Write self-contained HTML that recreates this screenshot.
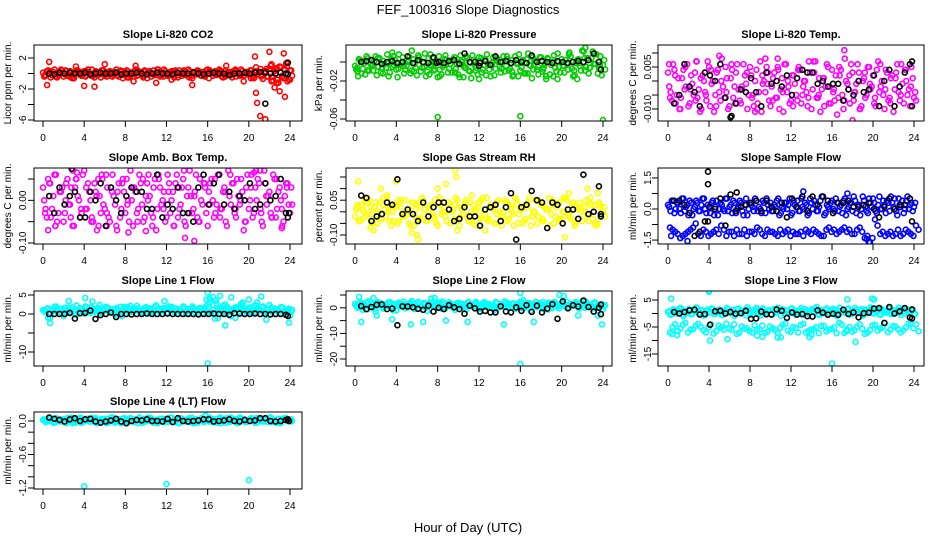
<!DOCTYPE html>
<html><head><meta charset="utf-8"><title>FEF_100316 Slope Diagnostics</title>
<style>
html,body{margin:0;padding:0;background:#fff;}
svg{display:block;font-family:"Liberation Sans",Arial,sans-serif;}
</style></head>
<body>
<svg id="chart" width="936" height="540" viewBox="0 0 936 540" xmlns="http://www.w3.org/2000/svg">
<rect width="936" height="540" fill="#fff"/>
<defs id="defs"></defs>
<text x="468" y="14" font-size="13" text-anchor="middle">FEF_100316  Slope Diagnostics</text>
<text x="468" y="532" font-size="13" text-anchor="middle">Hour of Day (UTC)</text>
</svg>
<script>
// ---------- data ----------
const xTicks=[0,4,8,12,16,20,24];
const xTickLabels=['0','4','8','12','16','20','24'];

const co2Main=[0.1,-0.3,0.4,-0.5,0.2,0.0,-0.2,0.5,-0.4,0.3,-0.1,0.2,-0.6,0.4,0.1,-0.3,0.3,-0.2,0.0,0.5,-0.5,0.2,-0.1,0.4,-0.3,0.1,0.3,-0.4,0.2,-0.2,0.4,-0.6,0.1,0.3,-0.3,0.0,0.5,-0.2,0.2,-0.5,0.3,0.1,-0.4,0.4,-0.1,0.2,-0.3,0.5,0.0,-0.2,0.3,-0.5,0.1,0.4,-0.3,0.2,-0.1,0.3,-0.6,0.1,0.4,-0.2,0.2,-0.4,0.5,0.0,-0.3,0.3,-0.1,0.2,-0.5,0.4,0.1,-0.2,0.3,-0.4,0.0,0.5,-0.3,0.2,-0.1,0.4,-0.6,0.3,0.1,-0.2,0.2,-0.4,0.6,-0.4,0.3,-0.8,0.9,-0.3,0.5,-1.0,0.4];
const co2B=[-0.2,0.3,-0.4,0.1,0.4,-0.5,0.2,-0.1,0.3,-0.3,0.0,0.4,-0.4,0.2,-0.2,0.3,-0.5,0.1,0.4,-0.3,0.2,-0.1,0.5,-0.4,0.0,0.3,-0.2,0.4,-0.5,0.1,0.2,-0.3,0.4,-0.1,0.3,-0.4,0.1,0.5,-0.2,0.2,-0.6,0.8,-0.4,0.6,-1.0,0.7,-0.5,0.9,-0.3];
const co2C=[-0.4,0.3,0.0,-0.2,0.5,-0.5,0.2,0.4,-0.1,-0.3,0.3,-0.6,0.1,0.4,-0.2,0.2,-0.4,0.5,0.0,-0.3,0.3,0.1,-0.5,0.4,-0.1,0.2,-0.3,0.0,0.5,-0.4,0.2,-0.2,0.4,-0.5,0.1,0.3,-0.3,0.2,-0.1,0.4,-0.6,0.3,0.0,-0.2,0.5,-0.4,0.1,0.3,-0.3,0.2,-0.1,0.4,-0.5,0.0,0.3,-0.2,0.5,-0.4,0.2,-0.1,0.3,-0.3,0.0,0.4,-0.6,0.2,0.1,-0.2,0.5,-0.4,0.3,-0.1,0.2,-0.5,0.4,0.0,-0.3,0.3,-0.2,0.1,0.4,-0.5,0.2,-0.1,0.6,-0.7,0.3,-0.4,1.0,-0.9,0.5,-1.2,0.8,-0.6,1.3,-0.8,0.4];
const co2ExtraX=[0.4,0.6,4,5,6,9,11,14.5,17.8,19.5,20.6,20.7,20.8,21.1,21.6,22,22.2,22.5,22.7,23,23.4,23.5,23.7,24,3.2,12.5,8.8];
const co2ExtraY=[-1.5,1.5,-1.6,-1.7,1.2,1.0,-1.2,-1.5,1.0,-1.0,2.2,-2.5,-3.8,-5.5,-5.9,2.8,1.2,-1.8,-1.2,-2.3,2.6,-3.0,1.4,-0.8,0.9,-0.8,-1.0];
const co2Ref=[0,-0.1,0.1,0,0.1,0,0,0.1,-0.1,0,0.1,0,0,0.1,-0.1,0,0,0.1,0,-0.1,0,0.1,0,0,-0.1,0.1,0,0,0.1,0,-0.1,0,0.1,0,0,-0.2,0,0,0.1,0,0.1,0.2,0.1,0,0,0.1,0];
const co2RefExtraX=[21.6,23.8,23.8];
const co2RefExtraY=[-3.9,1.4,-0.1];

const pressMain=[-0.004,-0.010,0.002,-0.007,-0.013,0.004,-0.002,-0.009,0.006,-0.005,-0.011,0.001,-0.006,-0.015,0.003,-0.003,-0.008,0.008,-0.001,-0.012,-0.004,0.005,-0.009,-0.002,-0.014,0.002,-0.006,0.009,-0.010,-0.003,0.004,-0.008,-0.016,0.000,-0.005,0.007,-0.011,-0.002,0.003,-0.007,-0.013,0.001,-0.004,0.006,-0.009,-0.017,0.002,-0.006,0.005,-0.011,-0.003,0.008,-0.008,-0.001,-0.014,0.004,-0.005,0.000,-0.010,0.003,-0.007,-0.015,0.006,-0.002,-0.009,0.002,-0.012,0.009,-0.004,-0.008,0.001,-0.013,0.005,-0.006,-0.018,0.000,-0.003,0.007,-0.010,-0.005,0.003,-0.011,-0.001,0.010,-0.007,-0.014,0.002,-0.004,0.012,-0.009,0.004,-0.006,0.011,-0.002,-0.012,0.006,-0.003];
const pressB=[-0.006,0.001,-0.009,-0.003,0.004,-0.012,-0.001,0.006,-0.007,-0.004,0.002,-0.010,0.005,-0.005,-0.013,0.000,-0.008,0.003,-0.002,-0.011,0.007,-0.006,-0.001,-0.009,0.004,-0.014,-0.003,0.002,-0.007,0.006,-0.010,-0.002,0.001,-0.012,0.005,-0.005,-0.008,0.003,-0.015,0.000,-0.004,0.008,-0.009,-0.001,0.004,-0.006,0.009,-0.003,-0.008];
const pressC=[-0.008,0.003,-0.012,-0.001,0.006,-0.009,-0.004,0.001,-0.014,0.004,-0.006,-0.002,0.008,-0.011,-0.005,0.002,-0.016,-0.003,0.005,-0.008,0.000,-0.012,0.003,-0.006,0.007,-0.010,-0.001,-0.015,0.004,-0.004,-0.009,0.001,0.006,-0.013,-0.003,0.002,-0.007,-0.011,0.005,-0.002,-0.016,0.000,-0.006,0.004,-0.010,0.007,-0.004,-0.013,0.001,-0.008,0.003,-0.002,-0.015,0.005,-0.007,0.000,-0.011,0.006,-0.004,-0.009,0.002,-0.014,-0.001,0.008,-0.006,-0.012,0.003,-0.003,-0.017,0.001,-0.008,0.005,-0.010,-0.002,0.004,-0.013,0.000,-0.006,0.009,-0.011,-0.004,0.002,-0.008,0.006,-0.015,-0.001,0.003,-0.009,0.011,-0.005,-0.012,0.004,-0.002,0.008,-0.007,-0.014,0.002];
const pressExtraX=[8,16,24,0.3,5.5,8.2,10.5,12,15.8,18.5,19.6,22.3,7.3,3.6,21.5];
const pressExtraY=[-0.058,-0.057,-0.061,-0.015,0.012,-0.015,-0.016,-0.018,-0.015,-0.015,-0.018,0.015,0.008,0.010,-0.018];
const pressRef=[0,0.001,0.002,0,-0.002,0,0.001,-0.001,0.000,0.006,-0.001,0.002,0,-0.001,0.005,0,-0.001,0.001,0.002,-0.002,0.009,0,0,-0.001,0.001,-0.003,0.006,0.000,0.001,-0.001,0.002,0,-0.001,0.007,0.000,0.001,0.000,-0.001,0.001,0,-0.001,0.000,0.001,0.000,0.002,0.009,0.000];
const pressRefExtraX=[23.8,12.0,7.9];
const pressRefExtraY=[-0.008,-0.004,-0.001];

const tempMain=[0.003,-0.004,0.006,-0.008,0.001,-0.006,0.004,-0.002,-0.009,0.002,-0.005,0.007,-0.003,-0.010,0.000,-0.007,0.005,-0.001,-0.011,0.003,-0.004,0.008,-0.006,0.001,-0.009,0.004,-0.002,0.006,-0.007,-0.003,0.002,-0.010,0.005,-0.005,0.000,-0.008,0.007,-0.001,-0.004,0.003,-0.009,0.001,-0.006,0.004,-0.003,-0.011,0.006,-0.002,-0.007,0.002,-0.005,0.005,-0.008,0.000,-0.004,0.007,-0.010,0.003,-0.006,0.001,-0.003,-0.009,0.006,-0.002,0.004,-0.007,-0.012,0.002,-0.005,0.008,-0.001,-0.008,0.003,-0.004,0.006,-0.010,0.000,-0.006,0.005,-0.003,0.002,-0.009,0.007,-0.002,-0.005,0.004,-0.007,0.001,-0.011,0.003,-0.004,0.006,-0.008,0.000,-0.003,0.005,-0.006];
const tempB=[-0.006,0.002,-0.010,0.005,-0.003,-0.007,0.001,-0.005,0.004,-0.009,0.000,-0.004,0.006,-0.008,-0.002,0.003,-0.006,-0.010,0.002,-0.001,-0.007,0.005,-0.004,0.000,-0.009,0.004,-0.002,-0.006,0.007,-0.005,0.001,-0.008,-0.003,0.005,-0.007,0.002,-0.004,-0.010,0.003,-0.001,-0.006,0.006,-0.003,-0.008,0.001,-0.005,0.004,-0.002,-0.007];
const tempC=[-0.002,-0.007,0.004,-0.005,-0.010,0.001,-0.003,0.006,-0.008,-0.001,0.003,-0.006,-0.011,0.002,-0.004,0.007,-0.009,0.000,-0.005,0.004,-0.007,-0.002,0.005,-0.010,0.001,-0.006,0.003,-0.003,-0.008,0.006,-0.001,-0.005,0.002,-0.009,0.004,-0.004,-0.011,0.000,0.005,-0.007,-0.002,0.003,-0.006,-0.010,0.001,0.006,-0.004,-0.008,0.002,-0.001,-0.007,0.004,-0.005,0.000,-0.009,0.003,-0.003,0.007,-0.006,-0.011,0.001,-0.002,0.005,-0.008,-0.004,0.002,-0.006,0.004,-0.010,0.000,-0.003,0.006,-0.007,-0.001,0.003,-0.009,0.001,-0.005,0.005,-0.002,-0.008,0.004,-0.004,0.000,-0.010,0.003,-0.006,0.002,-0.003,0.006,-0.007,-0.001,0.004,-0.005,-0.009,0.001,-0.004];
const tempExtraX=[5.0,9.5,17.2,18.0,10.7,2.8,8.5,0.1];
const tempExtraY=[0.009,0.008,0.011,-0.014,0.008,0.007,-0.011,0.006];
const tempRef=[-0.008,-0.005,0.006,-0.002,-0.004,-0.009,0.003,0.002,0.000,0.006,-0.006,-0.013,-0.008,-0.003,-0.004,0.001,-0.004,-0.009,0.003,-0.001,0.000,-0.002,0.002,-0.005,0.001,0.004,0.003,0.003,-0.001,0.000,-0.002,-0.001,-0.001,-0.007,-0.003,-0.005,0.000,-0.004,-0.003,0.002,-0.009,0.000,0.004,-0.009,-0.002,0.003,0.006];
const tempRefExtraX=[6.2,23.8,23.8];
const tempRefExtraY=[-0.0125,0.007,-0.009];

const ambMain=[0.03,-0.02,0.05,-0.04,0.01,0.06,-0.03,0.02,-0.05,0.04,-0.01,0.03,-0.06,0.05,0.00,-0.03,0.07,-0.02,0.02,-0.04,0.04,-0.07,0.01,0.05,-0.02,0.03,-0.05,0.06,-0.01,0.02,-0.04,0.05,-0.03,0.00,0.07,-0.06,0.02,-0.02,0.04,-0.05,0.01,0.06,-0.03,0.03,-0.07,0.05,-0.01,0.02,-0.04,0.04,0.00,-0.06,0.06,-0.02,0.03,-0.05,0.01,0.07,-0.03,0.02,-0.04,0.05,-0.01,0.03,-0.06,0.04,0.00,-0.03,0.06,-0.02,0.02,-0.05,0.07,-0.01,0.04,-0.04,0.01,0.05,-0.07,0.03,-0.02,0.06,-0.03,0.00,0.04,-0.05,0.07,-0.01,0.02,-0.04,0.05,-0.02,0.03,-0.06,0.01,0.04,-0.03];
const ambB=[-0.03,0.04,-0.06,0.02,0.00,-0.04,0.05,-0.02,0.03,-0.05,0.01,0.06,-0.03,0.02,-0.07,0.04,-0.01,0.03,-0.05,0.05,0.00,-0.04,0.06,-0.02,0.02,-0.06,0.03,0.07,-0.03,0.01,-0.05,0.04,-0.01,0.05,-0.04,0.02,0.06,-0.02,0.00,-0.05,0.03,0.07,-0.03,0.01,-0.04,0.05,-0.02,0.03,-0.01];
const ambC=[0.00,-0.04,0.04,-0.02,0.06,-0.05,0.02,0.03,-0.03,0.05,-0.01,-0.06,0.03,0.01,-0.04,0.06,-0.02,0.04,0.00,-0.05,0.02,0.05,-0.03,-0.01,0.06,-0.04,0.03,0.01,-0.06,0.04,-0.02,0.02,0.05,-0.05,0.00,0.03,-0.03,0.06,-0.01,-0.04,0.04,0.01,-0.06,0.05,-0.02,0.03,0.00,-0.05,0.06,-0.03,0.02,0.04,-0.04,-0.01,0.05,-0.06,0.03,0.01,-0.02,0.06,-0.05,0.00,0.04,-0.03,0.02,0.05,-0.04,-0.01,0.06,-0.02,0.03,-0.06,0.01,0.04,-0.03,0.05,-0.01,0.02,-0.05,0.06,0.00,-0.04,0.03,0.05,-0.02,-0.06,0.04,0.01,-0.03,0.06,-0.04,0.02,0.00,-0.05,0.04,-0.01,0.03];
const ambExtraX=[0.5,1.2,2.9,3.3,5.4,6.2,8.3,10,13.8,14.7,20.5,21.1,23.2,2.8];
const ambExtraY=[-0.07,-0.06,0.07,0.065,-0.06,-0.06,-0.075,-0.072,-0.088,-0.095,0.065,0.07,-0.065,0.074];
const ambRef=[0.01,-0.03,0.03,-0.01,0.01,0.02,-0.04,-0.04,0.02,0.00,0.04,-0.06,0.03,0.00,-0.03,0.01,0.03,0.02,0.02,-0.02,-0.02,0.06,-0.04,-0.01,-0.02,0.03,-0.03,-0.03,-0.05,0.03,0.06,-0.01,0.04,0.06,-0.01,0.02,-0.02,0.01,0.00,0.04,-0.02,-0.01,0.04,0.00,0.01,0.05,-0.03];
const ambRefExtraX=[2.8,23.8,23.9];
const ambRefExtraY=[0.074,-0.04,-0.03];

const rhMain=[-0.02,0.03,-0.04,0.01,0.05,-0.01,0.02,-0.05,0.04,0.00,-0.03,0.06,-0.02,0.01,-0.06,0.03,0.02,-0.04,0.05,-0.01,0.00,-0.05,0.04,-0.02,0.03,-0.03,0.06,0.01,-0.04,0.02,-0.01,0.05,-0.06,0.03,0.00,-0.02,0.04,-0.05,0.01,0.06,-0.03,0.02,-0.01,0.05,-0.04,0.00,0.03,-0.06,0.04,-0.02,0.01,0.06,-0.03,0.02,-0.05,0.04,0.00,-0.02,0.05,-0.04,0.03,-0.01,0.06,-0.05,0.01,0.02,-0.03,0.04,-0.06,0.00,0.05,-0.02,0.03,-0.04,0.01,0.06,-0.01,-0.05,0.02,0.04,-0.03,0.00,0.05,-0.02,0.03,-0.06,0.01,0.04,-0.04,0.02,-0.01,0.06,-0.03,0.03,-0.05,0.02,0.00];
const rhB=[0.02,-0.03,0.04,-0.01,-0.05,0.03,0.00,-0.04,0.05,-0.02,0.01,-0.06,0.04,-0.01,0.02,-0.03,0.06,0.00,-0.05,0.03,-0.02,0.04,-0.04,0.01,0.05,-0.03,0.02,-0.01,-0.06,0.04,0.00,0.03,-0.05,0.02,-0.02,0.05,-0.04,0.01,0.03,-0.03,0.06,-0.01,-0.04,0.02,0.00,0.04,-0.05,0.03,-0.02];
const rhC=[0.01,-0.04,0.03,0.00,-0.02,0.05,-0.05,0.02,-0.01,0.04,-0.03,0.01,0.06,-0.04,0.00,0.03,-0.05,0.02,-0.02,0.05,-0.01,-0.06,0.04,0.01,-0.03,0.02,0.05,-0.04,0.00,0.03,-0.02,-0.05,0.06,-0.01,0.02,-0.04,0.04,0.00,-0.03,0.05,-0.06,0.01,0.03,-0.02,0.04,-0.05,0.00,0.02,-0.03,0.06,-0.01,-0.04,0.03,0.01,-0.05,0.05,-0.02,0.00,0.04,-0.03,0.02,-0.06,0.05,-0.01,0.01,-0.04,0.03,0.06,-0.02,0.00,-0.05,0.04,-0.03,0.02,0.01,-0.06,0.05,-0.02,0.03,-0.04,0.00,0.06,-0.01,-0.03,0.04,-0.05,0.02,0.01,-0.02,0.05,-0.04,0.03,0.00,-0.06,0.04,-0.01,0.02];
const rhExtraX=[0.3,4.0,9.7,9.8,6.0,6.1,1.5,2.5,8.0,8.8,9.9,12.6,20.3,20.7,22.5,23.5,3.1,11.3,5.5,1.8];
const rhExtraY=[0.13,0.13,0.18,0.15,-0.10,-0.12,-0.07,0.10,0.10,0.12,-0.08,-0.08,-0.11,0.08,0.10,0.08,0.07,0.07,-0.09,-0.08];
const rhRef=[0.07,0.06,-0.04,-0.02,-0.01,0.04,0.03,0.14,-0.01,0.01,-0.01,-0.04,0.04,-0.02,0.02,0.04,0.04,0.01,-0.04,-0.03,0.02,-0.02,-0.02,-0.06,0.01,0.02,0.03,-0.04,0.02,0.08,-0.12,0.02,0.03,0.09,0.05,0.04,-0.07,0.04,0.03,-0.05,0.01,0.01,-0.03,0.16,-0.01,0.00,0.11];
const rhRefExtraX=[23.8,23.8];
const rhRefExtraY=[-0.02,-0.01];

const sampleMain=[0.2,-0.1,0.4,0.0,0.3,-0.2,0.5,0.1,-0.3,0.3,0.0,0.4,-0.1,0.2,0.5,-0.2,0.1,0.3,-0.3,0.4,0.0,0.2,-0.1,0.5,0.1,-0.2,0.3,0.0,0.4,-0.1,0.2,-0.3,0.3,0.1,0.5,-0.1,0.0,0.4,-0.2,0.2,0.3,-0.1,0.1,0.5,-0.2,0.0,0.3,0.2,-0.3,0.4,0.1,-0.1,0.5,0.0,0.2,-0.2,0.3,0.4,-0.1,0.1,0.6,-0.3,0.2,0.0,0.4,-0.1,0.3,0.1,-0.2,0.5,0.0,0.3,-0.1,0.4,0.2,-0.3,0.6,0.1,-0.2,0.3,0.5,-0.1,0.2,0.0,0.4,-0.2,0.3,0.6,0.1,-0.1,0.5,0.2,-0.2,0.4,0.0,0.3,0.1];
const sampleB=[-0.9,-1.1,-1.4,-1.2,-1.0,-0.7,-1.3,-1.1,-1.2,-1.0,-0.8,-1.3,-1.1,-1.0,-1.2,-1.3,-1.1,-0.9,-1.2,-1.0,-1.1,-1.3,-1.2,-1.0,-1.1,-1.2,-1.3,-1.1,-1.0,-1.2,-1.3,-0.9,-1.0,-1.1,-0.9,-1.0,-1.2,-0.9,-1.4,-1.6,-0.5,-1.2,-1.3,-1.1,-1.2,-1.3,-1.0,-1.2,-0.8];
const sampleC=[0.1,0.4,-0.2,0.3,0.0,0.5,-0.1,0.2,0.4,-0.3,0.1,0.3,-0.1,0.5,0.0,0.2,-0.2,0.4,0.1,-0.3,0.3,0.0,0.5,-0.1,0.2,0.4,-0.2,0.1,0.3,-0.3,0.5,0.0,0.2,-0.1,0.4,0.1,-0.2,0.3,0.5,0.0,-0.1,0.2,0.4,-0.3,0.1,0.3,0.0,0.5,-0.2,0.2,0.4,-0.1,0.1,0.3,-0.3,0.5,0.0,0.2,-0.1,0.4,0.6,-0.2,0.1,0.3,0.0,0.5,-0.1,0.2,0.4,-0.3,0.1,0.3,0.6,-0.2,0.2,0.0,0.4,-0.1,0.5,0.1,0.3,-0.2,0.6,0.0,0.2,0.4,-0.1,0.3,0.5,-0.3,0.1,0.4,0.0,0.6,0.2,-0.1,0.3];
const sampleD=[-1.0,-1.2,-1.3,-1.1,-0.9,-1.2,-1.0,-1.3,-1.1,-1.2,-1.0,-1.1,-1.3,-1.2,-1.0,-1.1,-1.2,-1.0,-1.3,-1.1,-1.2,-1.0,-1.1,-1.3,-1.2,-1.1,-1.0,-1.2,-1.1,-1.3,-1.0,-1.1,-1.2,-1.0,-1.1,-1.2,-1.0,-1.1,-1.3,-1.4,-0.8,-1.1,-1.2,-1.3,-1.0,-1.2,-1.1,-1.3,-1.0];
const sampleExtraX=[1.9,19.4,19.6,0.3,1.2,13.2,17.5];
const sampleExtraY=[-1.55,-1.45,-1.6,-1.3,-1.4,0.85,0.75];
const sampleRef=[0.4,0.4,0.2,-0.2,-1.3,-1.1,-0.6,0.1,0.0,0.5,-0.8,0.7,-0.1,0.1,0.2,0.3,0.4,-0.1,0.4,0.1,-0.1,0.3,-0.4,0.5,0.1,0.6,-0.1,0.6,0.2,0.6,0.4,-0.2,0.3,0.3,0.4,0.1,0.1,0.2,0.3,0.0,-0.4,0.1,0.5,0.0,0.2,0.2,0.5];
const sampleRefExtraX=[3.9,3.9,3.9,6.7,23.8];
const sampleRefExtraY=[1.8,1.2,-0.6,0.8,-0.6];

const line1Main=[1,0.5,1.5,0.2,1.2,2,0.8,1.4,-0.5,1,1.6,0.4,1.1,2.2,0.7,1.3,0.1,1.8,0.9,1.2,0.6,1.5,2.4,0.3,1,1.7,0.8,1.3,-0.2,1.1,1.9,0.5,1.4,0.9,2.1,0.6,1.2,1.5,0.2,1,1.8,0.7,1.3,0.4,2.3,1.1,0.8,1.6,0.3,1.2,1.9,0.6,1.4,1,0.1,1.7,0.8,1.3,2,0.5,1.1,1.6,0.4,1.4,2.5,0.2,1,3.5,-1,1.3,2.2,0.7,1.5,-0.5,1.2,1.8,0.6,2.6,1.1,0.3,1.6,0.9,2.1,0.4,1.3,1.8,0.7,1.2,2.4,0.5,1.4,1.0,0.3,1.7,0.8,1.2,-0.5];
const line1B=[0.8,-1,1.2,0.4,1.6,0.9,-0.3,1.3,0.6,1.8,1.1,0.2,1.5,0.7,1.3,-0.5,1.9,0.9,1.2,0.5,1.6,0.3,1.4,0.8,2,0.6,1.1,1.5,0.2,1.3,0.9,1.7,3,-1.2,1.4,2.5,0.6,-1,1.8,1.1,0.4,2.2,0.9,-1.5,1.3,0.7,1.6,0.5,1.1];
const line1C=[0.9,1.4,0.3,1.1,1.8,0.6,1.3,0.2,1.6,1.0,0.5,1.7,1.2,0.4,1.5,0.8,2.0,1.1,0.3,1.4,0.9,1.6,0.5,1.2,1.9,0.7,1.3,0.1,1.5,1.0,0.6,1.8,1.2,0.4,1.4,0.9,2.1,0.7,1.1,1.6,0.3,1.3,0.8,1.9,1.0,0.5,1.5,1.2,0.2,1.7,0.9,1.4,0.6,1.1,2.0,0.4,1.3,0.8,1.6,1.0,0.3,1.5,1.1,0.7,1.8,0.2,1.2,2.8,0.9,1.4,0.5,1.9,1.0,0.6,1.6,1.2,0.3,2.3,0.8,1.3,1.7,0.5,1.1,1.5,0.9,2.0,0.4,1.2,1.6,0.7,1.3,0.9,1.8,0.5,1.1,1.4,0.6];
const line1ExtraX=[0.7,16,16,16.2,16.5,16.8,17.2,17.7,18.3,19.4,20,20.8,21.2,4.1,2.5,4.8,0.5,23.9,11.8,15.9];
const line1ExtraY=[-2.4,-13,5.6,4,4.5,3.5,4.8,-3,4.4,3,3.8,3,4.6,4.2,3.4,3.3,-1,-2.3,3.4,3.8];
const line1Ref=[0,0,0,0,0.3,-1.2,0.2,0.3,0.9,-1.3,-0.3,0,0.4,-0.8,0,0,-0.1,0,0,0.1,0,0,0,0.1,0,0,0,0,0,-0.1,0,0,0.1,0,0,-0.2,0.2,0.1,0,0,0.1,0,0,-0.1,0,0,-0.2];
const line1RefExtraX=[23.8];
const line1RefExtraY=[-0.5];

const line2Main=[1.5,0,2,-0.8,1,2.5,0.3,1.2,-1.5,0.8,1.8,-0.3,1.1,2.2,0.5,1.4,-1,2,0.6,1.1,0.1,1.6,2.6,-0.5,0.9,1.9,0.4,1.3,-1.2,1,2.1,0.2,1.5,0.7,2.4,-0.2,1.2,1.7,0,0.8,2,0.5,1.3,-0.7,2.3,1,0.6,1.8,-0.1,1.2,2.2,0.3,1.5,0.9,-0.9,1.9,0.6,1.4,2.5,0.2,1.1,1.7,-0.4,1.3,2.4,0,0.9,1.6,-1.1,1.2,2.3,0.5,1.5,-0.6,1.1,2,0.4,2.2,1,-0.2,1.7,0.8,2.3,0.1,1.3,1.9,0.6,1.2,2.4,0,1.5,0.9,-0.3,1.8,0.7,1.1,-0.5];
const line2B=[0.5,1.8,-0.6,1.2,2.2,0.3,1.5,-1,1,2.4,0.6,1.3,-0.4,1.9,0.8,1.1,2.1,0.2,1.4,-0.8,1.7,0.5,1.2,2.3,0,1.6,0.9,-0.5,1.3,2,0.4,1.5,-0.2,1.8,0.7,1.1,2.2,-0.7,1.4,0.6,1.9,0.2,1.3,-0.3,1.7,0.9,2.1,0.5,1];
const line2C=[0.8,1.6,0.2,1.2,2.0,0.5,1.4,-0.4,1.0,1.8,0.3,1.3,0.7,2.2,0.1,1.1,1.7,0.6,1.5,-0.2,1.2,1.9,0.4,1.0,2.3,0.8,1.4,0.0,1.6,1.1,0.5,2.0,1.3,-0.3,1.5,0.9,2.1,0.3,1.2,1.8,0.6,1.4,0.0,1.9,1.0,0.4,1.6,1.2,-0.5,1.8,0.9,1.3,0.5,1.1,2.2,0.2,1.5,0.7,1.7,1.0,0.3,1.6,1.2,0.8,2.0,-0.1,1.3,1.9,0.6,1.4,0.2,1.8,1.0,0.5,1.6,1.2,0.0,2.1,0.8,1.3,1.7,0.4,1.1,1.5,0.9,2.2,0.3,1.2,1.6,0.7,1.4,0.9,1.9,0.5,1.0,1.5,0.6];
const line2ExtraX=[0.4,0.6,4.0,4.1,1.8,3.6,5.4,6.6,7.4,7.7,8.8,10.9,14.4,16,16,16.3,17.3,19.8,20.2,21.6,22.3,23.5,23.9,2.1];
const line2ExtraY=[4.2,-5.5,7.5,8,3.8,-4.5,-6.5,-5.5,3.6,3.8,-5,-5.5,-6.5,-22,5.8,3,-5.5,5,4.6,-3,2.5,-3,-6.5,-3];
const line2Ref=[0.7,-0.5,0.3,1.2,1.3,-0.5,-0.3,-6.8,0.6,0.5,0.2,-0.4,-0.8,0.8,-1.5,0,-0.5,1,0.2,-0.5,-2.3,0.8,-0.2,-1.5,-1.2,-1.8,-1.8,0.6,-1.4,-1.8,0.2,-1.2,1,-1.6,0.8,-1.8,-0.3,1.4,-4.3,2.5,-0.2,1,0.5,2.8,0.3,-1.5,0];
const line2RefExtraX=[23.8,23.8];
const line2RefExtraY=[-2.5,1.2];

const line3Main=[0.5,-0.5,1.5,0,1,2,-1,0.8,1.6,-0.3,0.9,2.2,0.2,1.3,-0.8,1,0.4,1.8,-0.2,0.7,1.4,-0.6,0.9,2,0.3,1.1,-0.9,1.6,0.5,0,1.2,2.3,-0.4,0.8,1.5,0.1,-0.7,1.9,0.6,1,-0.2,1.4,0.3,2.1,-0.8,0.9,1.2,0,1.7,0.4,-0.5,1.1,2,0.2,0.8,-0.3,1.5,0.5,2.4,-0.6,1,0.3,1.8,-0.1,0.7,1.3,-0.9,2.1,0.4,0.9,1.6,-0.4,0.6,2,0.1,1.2,-0.7,1.4,0.5,2.2,0,0.8,1.7,-0.5,1,0.3,1.9,-0.2,1.1,0.6,2.1,-0.6,0.9,1.5,0.2,1,-0.3];
const line3B=[-7,-4,-5.5,-3.5,-6,-4.5,-5,-7,-4,-6.5,-5.2,-3.8,-6,-7.5,-4.8,-5.5,-7,-6,-4.5,-6.8,-5.5,-7.2,-4.2,-6.3,-5,-7,-3.8,-6.5,-5.8,-7.3,-4.6,-6,-5.2,-3.5,-7.2,-5,-6.2,-4,-7.5,-6.2,-4.2,-5.5,-3.6,-6,-4.8,-7,-5.2,-3.8,-4];
const line3C=[0.8,0.0,1.3,0.5,1.8,-0.4,1.0,0.3,1.5,-0.2,0.7,1.9,0.2,1.1,-0.6,1.4,0.6,1.7,-0.1,0.9,1.2,-0.5,0.8,1.6,0.1,1.3,-0.3,1.8,0.4,1.0,-0.7,1.5,0.3,1.1,2.0,-0.1,0.7,1.4,0.2,1.2,-0.4,1.7,0.5,0.9,1.5,-0.2,1.1,0.4,1.9,0.0,0.8,1.3,-0.6,1.6,0.3,1.0,0.6,1.8,-0.3,1.2,0.4,1.5,0.0,0.9,1.7,-0.5,1.1,0.5,1.4,0.2,1.9,-0.2,0.8,1.3,0.3,1.6,-0.4,1.0,0.7,1.8,0.1,1.2,-0.3,1.5,0.6,1.0,2.0,-0.1,0.9,1.3,0.4,1.7,0.0,1.1,0.5,1.4,-0.2];
const line3D=[-5,-6.5,-4.2,-7,-5.8,-3.9,-6.2,-5.2,-7.4,-4.5,-6,-5.5,-4,-7.1,-5.6,-6.4,-4.4,-5.9,-7.2,-4.8,-6.1,-5.3,-3.7,-6.8,-5.4,-4.3,-7,-6,-5.1,-4.6,-6.6,-5.7,-7.3,-4.1,-5.9,-6.7,-4.9,-5.6,-7.1,-4.4,-6.3,-5.1,-6.9,-4.7,-5.8,-6.2,-3.9,-5.4,-6.6];
const line3ExtraX=[0.3,0.4,4.0,4.0,4.1,5.8,13.8,16,17.5,17.4,18.3,19.9,20.1,0.9,8.7,11,14,9.2,10.7];
const line3ExtraY=[5.5,-7.5,8,8.5,-10,-9.5,-8.8,-18.5,5.2,-6.5,-10.5,5.5,5.2,-8,-8.2,-8.8,-7.9,-8.6,-8.9];
const line3Ref=[0.5,0,0.5,1.2,1.4,-0.4,-0.2,-4.2,0.8,1,0,0.6,-0.1,0.1,1,-2,-1.8,0.7,-0.3,-0.4,1.5,1,-1.6,0.4,-0.4,-0.2,-1,-1.1,1.2,0.3,-0.5,-0.1,-0.5,1.4,-0.2,0.4,-1.4,0.1,0.3,1.8,2,-3.5,2.4,0,0.8,2,-1.5];
const line3RefExtraX=[23.8,23.8];
const line3RefExtraY=[1.5,-1.8];

const line4Main=[0.02,-0.02,0.04,0.00,-0.03,0.05,0.01,-0.01,0.03,-0.04,0.02,0.06,-0.02,0.01,0.04,-0.03,0.00,0.03,-0.01,0.05,0.02,-0.04,0.01,0.04,-0.02,0.03,0.00,0.06,-0.03,0.02,-0.01,0.04,0.01,-0.02,0.05,0.00,0.03,-0.04,0.02,0.04,-0.01,0.01,0.05,-0.03,0.02,0.00,0.04,-0.02,0.03,0.01,0.06,-0.01,0.02,-0.04,0.04,0.00,0.03,-0.02,0.05,0.01,-0.03,0.02,0.04,-0.01,0.00,0.05,-0.02,0.03,0.01,-0.04,0.04,0.02,-0.01,0.06,0.00,0.03,-0.03,0.02,0.04,-0.02,0.01,0.05,0.00,-0.03,0.03,0.02,-0.01,0.04,0.06,-0.02,0.01,0.03,-0.04,0.02,0.05,0.00,-0.01];
const line4B=[0.01,0.04,-0.02,0.03,0.00,0.05,-0.03,0.02,0.04,-0.01,0.03,0.01,-0.04,0.05,0.02,-0.02,0.04,0.00,0.03,-0.03,0.06,0.01,-0.01,0.04,0.02,-0.02,0.03,0.00,0.05,-0.04,0.02,0.04,-0.01,0.01,0.06,-0.03,0.03,0.00,0.04,-0.02,0.02,0.05,-0.01,0.03,0.01,-0.03,0.04,0.02,0.00];
const line4C=[0.03,-0.01,0.05,0.01,-0.03,0.04,0.00,0.02,-0.02,0.05,0.01,-0.04,0.03,0.00,0.06,-0.02,0.02,0.04,-0.01,0.01,0.05,-0.03,0.03,0.00,0.04,-0.02,0.06,0.01,-0.01,0.03,-0.04,0.05,0.02,0.00,0.04,-0.02,0.01,0.06,-0.03,0.03,0.00,0.05,-0.01,0.02,-0.04,0.04,0.01,0.03,-0.02,0.06,0.00,0.02,-0.03,0.05,0.01,-0.01,0.04,0.02,-0.04,0.03,0.00,0.05,-0.02,0.01,0.06,-0.01,0.03,-0.03,0.04,0.00,0.02,0.05,-0.02,0.01,0.03,-0.04,0.06,0.00,0.02,-0.01,0.04,0.01,-0.03,0.05,0.02,0.00,0.03,-0.02,0.06,0.01,-0.01,0.04,-0.03,0.02,0.05,0.00,0.03];
const line4ExtraX=[4,12,20,15.8];
const line4ExtraY=[-1.17,-1.13,-1.06,0.1];
const line4Ref=[0.06,0.04,0.02,-0.01,0.03,0.05,0.00,0.03,0.04,-0.01,-0.03,-0.01,0.01,0.04,-0.01,-0.04,0.00,0.02,0.01,0.03,0.00,0.00,-0.01,0.04,-0.02,0.05,0.00,-0.01,0.00,0.01,0.03,0.03,-0.01,0.00,0.01,0.03,0.00,-0.01,0.02,0.00,0.01,0.05,0.05,0.00,-0.01,0.00,0.02];
const line4RefExtraX=[23.8,23.9];
const line4RefExtraY=[0.03,0.0];

// ---------- layout ----------
const NS='http://www.w3.org/2000/svg';
const svg=document.getElementById('chart');
const defs=document.getElementById('defs');
const cols=[{l:34,r:302,x0:43,x24:290,lab:7,tl:22},{l:346,r:612,x0:355,x24:603,lab:318,tl:333},{l:658,r:924,x0:668,x24:914,lab:632,tl:647}];
const rows=[{t:45,b:121},{t:168,b:244},{t:291,b:366},{t:412,b:489}];
// sampling schedules: [first hour, step]
const schedMain=[0,0.25], schedB=[0.2,0.5], schedC=[0.12,0.25], schedD=[0.45,0.5], schedRef=[0.6,0.5];

const panels=[
 {key:'co2',title:'Slope Li-820 CO2',ylab:'Licor ppm per min.',color:'#ff0000',r:0,c:0,top:3.68,bot:-6.13,ticks:[2,0,-2,-4,-6],labels:['2','','-2','','-6'],fills:[[co2Main,schedMain],[co2B,schedB],[co2C,schedC]],ex:co2ExtraX,ey:co2ExtraY,ref:co2Ref,rx:co2RefExtraX,ry:co2RefExtraY},
 {key:'pressure',title:'Slope Li-820 Pressure',ylab:'kPa per min.',color:'#00cc00',r:0,c:1,top:0.0179,bot:-0.0621,ticks:[0,-0.02,-0.04,-0.06],labels:['','-0.02','','-0.06'],fills:[[pressMain,schedMain],[pressB,schedB],[pressC,schedC]],ex:pressExtraX,ey:pressExtraY,ref:pressRef,rx:pressRefExtraX,ry:pressRefExtraY},
 {key:'temp',title:'Slope Li-820 Temp.',ylab:'degrees C per min.',color:'#ff00ff',r:0,c:2,top:0.01286,bot:-0.01429,ticks:[0.010,0.005,0,-0.005,-0.010],labels:['','0.005','','','-0.010'],fills:[[tempMain,schedMain],[tempB,schedB],[tempC,schedC]],ex:tempExtraX,ey:tempExtraY,ref:tempRef,rx:tempRefExtraX,ry:tempRefExtraY},
 {key:'amb-box-temp',title:'Slope Amb. Box Temp.',ylab:'degrees C per min.',color:'#ff00ff',r:1,c:0,top:0.0758,bot:-0.1023,ticks:[0.05,0,-0.05,-0.10],labels:['','0.00','','-0.10'],fills:[[ambMain,schedMain],[ambB,schedB],[ambC,schedC]],ex:ambExtraX,ey:ambExtraY,ref:ambRef,rx:ambRefExtraX,ry:ambRefExtraY},
 {key:'gas-stream-rh',title:'Slope Gas Stream RH',ylab:'percent per min.',color:'#ffff00',r:1,c:1,top:0.1888,bot:-0.1388,ticks:[0.15,0.10,0.05,0,-0.05,-0.10],labels:['','','0.05','','','-0.10'],fills:[[rhMain,schedMain],[rhB,schedB],[rhC,schedC]],ex:rhExtraX,ey:rhExtraY,ref:rhRef,rx:rhRefExtraX,ry:rhRefExtraY},
 {key:'sample-flow',title:'Slope Sample Flow',ylab:'ml/min per min.',color:'#0000ff',r:1,c:2,top:1.98,bot:-1.69,ticks:[1.5,0.75,0,-0.75,-1.5],labels:['1.5','','0.0','','-1.5'],fills:[[sampleMain,schedMain],[sampleB,schedB],[sampleC,schedC],[sampleD,schedD]],ex:sampleExtraX,ey:sampleExtraY,ref:sampleRef,rx:sampleRefExtraX,ry:sampleRefExtraY},
 {key:'line1-flow',title:'Slope Line 1 Flow',ylab:'ml/min per min.',color:'#00ffff',r:2,c:0,top:6.05,bot:-13.68,ticks:[5,0,-5,-10],labels:['5','0','','-10'],fills:[[line1Main,schedMain],[line1B,schedB],[line1C,schedC]],ex:line1ExtraX,ey:line1ExtraY,ref:line1Ref,rx:line1RefExtraX,ry:line1RefExtraY},
 {key:'line2-flow',title:'Slope Line 2 Flow',ylab:'ml/min per min.',color:'#00ffff',r:2,c:1,top:6.56,bot:-22.73,ticks:[5,0,-5,-10,-15,-20],labels:['','0','','-10','','-20'],fills:[[line2Main,schedMain],[line2B,schedB],[line2C,schedC]],ex:line2ExtraX,ey:line2ExtraY,ref:line2Ref,rx:line2RefExtraX,ry:line2RefExtraY},
 {key:'line3-flow',title:'Slope Line 3 Flow',ylab:'ml/min per min.',color:'#00ffff',r:2,c:2,top:8.33,bot:-19.44,ticks:[5,0,-5,-10,-15],labels:['5','','-5','','-15'],fills:[[line3Main,schedMain],[line3B,schedB],[line3C,schedC],[line3D,schedD]],ex:line3ExtraX,ey:line3ExtraY,ref:line3Ref,rx:line3RefExtraX,ry:line3RefExtraY},
 {key:'line4-flow',title:'Slope Line 4 (LT) Flow',ylab:'ml/min per min.',color:'#00ffff',r:3,c:0,top:0.161,bot:-1.218,ticks:[0,-0.2,-0.4,-0.6,-0.8,-1.0,-1.2],labels:['0.0','','','-0.6','','','-1.2'],fills:[[line4Main,schedMain],[line4B,schedB],[line4C,schedC]],ex:line4ExtraX,ey:line4ExtraY,ref:line4Ref,rx:line4RefExtraX,ry:line4RefExtraY}
];

function mk(tag,attrs,parent){const e=document.createElementNS(NS,tag);for(const k in attrs)e.setAttribute(k,attrs[k]);(parent||svg).appendChild(e);return e;}

panels.forEach((p,pi)=>{
 const C=cols[p.c],R=rows[p.r];
 const g=mk('g',{});
 
 
 const sx=v=>C.x0+(v/24)*(C.x24-C.x0);
 const sy=v=>R.t+(p.top-v)/(p.top-p.bot)*(R.b-R.t);
 const cp=mk('clipPath',{id:'clip'+pi},defs);
 mk('rect',{x:C.l,y:R.t,width:C.r-C.l,height:R.b-R.t},cp);
 const t=mk('text',{x:(C.l+C.r)/2,y:R.t-7,'font-size':11,'font-weight':'bold','text-anchor':'middle'},g);
 t.textContent=p.title;
 
 
 const cy=(R.t+R.b)/2;
 const yl=mk('text',{x:0,y:0,'font-size':10,'text-anchor':'middle',transform:`translate(${C.lab+4},${cy}) rotate(-90)`},g);
 yl.textContent=p.ylab;
 
 
 const pts=mk('g',{fill:'none','stroke-width':1.6,'clip-path':`url(#clip${pi})`},g);
 
 
 const dot=(x,y,col)=>{const c=mk('circle',{cx:sx(x).toFixed(1),cy:sy(y).toFixed(1),r:2.5,stroke:col},pts);
   
   };
 p.fills.forEach(([arr,s])=>arr.forEach((v,i)=>dot(s[0]+i*s[1],v,p.color)));
 p.ex.forEach((x,i)=>dot(x,p.ey[i],p.color));
 p.ref.forEach((v,i)=>dot(schedRef[0]+i*schedRef[1],v,'#000'));
 p.rx.forEach((x,i)=>dot(x,p.ry[i],'#000'));
 const box=mk('rect',{x:C.l,y:R.t,width:C.r-C.l,height:R.b-R.t,fill:'none',stroke:'#000','stroke-width':1},g);
 
 
 xTicks.forEach((v,i)=>{
  const x=sx(v);
  const tk=mk('line',{x1:x,y1:R.b,x2:x,y2:R.b+6,stroke:'#000'},g);
  
  
  const lb=mk('text',{x:x,y:R.b+20,'font-size':10,'text-anchor':'middle'},g);
  lb.textContent=xTickLabels[i];
  
  
 });
 p.ticks.forEach((v,i)=>{
  const y=sy(v);
  const tk=mk('line',{x1:C.l-6,y1:y,x2:C.l,y2:y,stroke:'#000'},g);
  
  
  if(p.labels[i]){
   const lb=mk('text',{x:0,y:0,'font-size':10,'text-anchor':'middle',transform:`translate(${C.tl+4},${y}) rotate(-90)`},g);
   lb.textContent=p.labels[i];
   
   
  }
 });
});
</script>
</body></html>
